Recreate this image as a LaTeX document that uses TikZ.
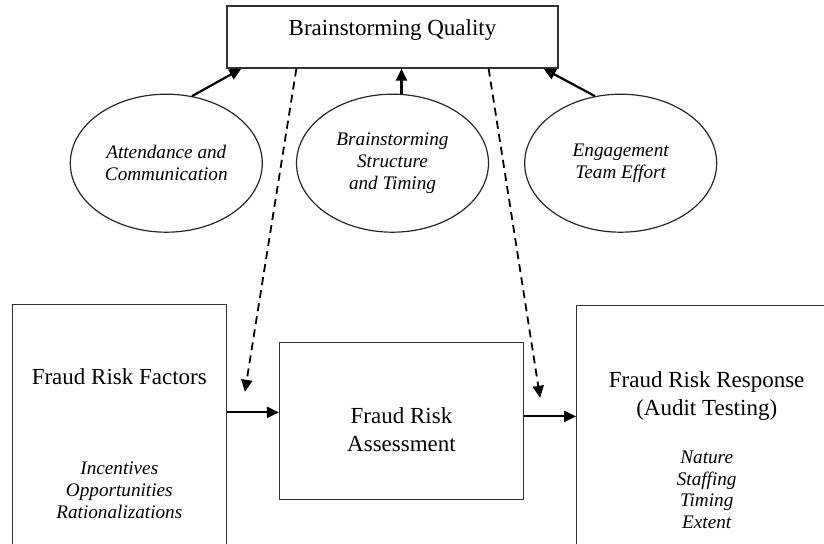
\documentclass[tikz,border=0pt]{standalone}
\usepackage{fontspec}
\setmainfont{Liberation Serif}
\usetikzlibrary{shapes.geometric, arrows.meta, positioning, calc}

\begin{document}
\begin{tikzpicture}[
    x=0.5pt, y=-0.5pt,
    box/.style={rectangle, draw=black!80, line width=0.6pt, inner sep=0pt},
    factor/.style={ellipse, draw=black!85, line width=0.6pt, minimum width=96pt,
        minimum height=69pt, inner sep=0pt, align=center,
        font=\fontsize{9.6}{10.85}\selectfont\itshape},
    heading/.style={align=center, font=\fontsize{11.5}{14}\selectfont},
    items/.style={align=center, font=\fontsize{9.6}{10.85}\selectfont\itshape},
    arrow/.style={-{Triangle[length=6pt,width=5.5pt]}, line width=1.1pt},
    dasharrow/.style={-{Triangle[length=6pt,width=5.5pt]}, line width=0.9pt,
        dash pattern=on 4pt off 2.6pt}
]
\useasboundingbox (0,0) rectangle (824,544);
\clip (0,0) rectangle (824,544);

% Top box
\node[box, minimum width=165.5pt, minimum height=31pt, text height=8pt, text depth=9pt,
    font=\fontsize{11.5}{14}\selectfont] (quality) at (392.5,37) {Brainstorming Quality};

% Three drivers
\node[factor, below=12.5pt of quality] (struct) {Brainstorming\\Structure\\and Timing};
\node[factor, left=16.5pt of struct] (attend) {Attendance and\\Communication};
\node[factor, right=17.5pt of struct] (effort) {Engagement\\Team Effort};

% Process boxes
\node[box, minimum width=122pt, minimum height=78.5pt, below=54.5pt of struct, xshift=4.5pt] (assess) {};
\node[box, anchor=north east, minimum width=107pt, minimum height=130pt] (factors) at ($(assess.north west)+(-52,-38)$) {};
\node[box, anchor=north west, minimum width=130pt, minimum height=130pt] (response) at ($(assess.north east)+(52,-37)$) {};

% Box texts
\node[heading] (assesstext) at ($(assess.center)+(0,9)$) {Fraud Risk\\Assessment};
\node[heading, anchor=base] (factorstitle) at ($(factors.north)+(0,81)$) {Fraud Risk Factors};
\node[items] (factorsitems) at ($(factors.north)+(0,186.5)$) {Incentives\\Opportunities\\Rationalizations};
\node[heading] (responsetitle) at ($(response.north)+(0,91)$) {Fraud Risk Response\\(Audit Testing)};
\node[items] (responseitems) at ($(response.north)+(0,185)$) {Nature\\Staffing\\Timing\\Extent};

% Arrows
\draw[arrow] (attend.69) -- ($(quality.south west)+(15,0)$);
\draw[arrow] ([xshift=4.5pt]struct.north) -- ([xshift=4.5pt]struct.north |- quality.south);
\draw[arrow] (effort.111) -- ($(quality.south east)+(-15,0)$);

\coordinate (factorsin) at ($(factors.north east)+(18,88)$);
\coordinate (responsein) at ($(response.north west)+(-36,93)$);
\draw[dasharrow] ($(quality.south west)+(70,0)$) -- (factorsin);
\draw[dasharrow] ($(quality.south east)+(-70,0)$) -- (responsein);

\draw[arrow] ([yshift=4.25pt]assess.west -| factors.east) -- ([yshift=4.25pt]assess.west);
\draw[arrow] ([yshift=2.25pt]assess.east) -- ([yshift=2.25pt]assess.east -| response.west);

\end{tikzpicture}
\end{document}
